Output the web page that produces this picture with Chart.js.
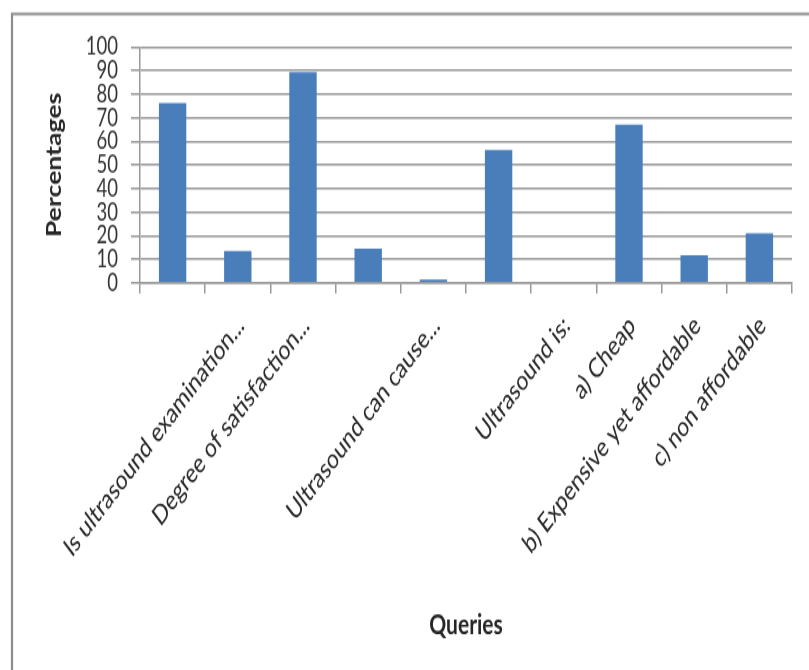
<!DOCTYPE html>
<html>
<head>
<meta charset="utf-8">
<script src="https://cdn.jsdelivr.net/npm/chart.js@4.4.0/dist/chart.umd.min.js"></script>
<style>
  html, body { margin: 0; padding: 0; background: #fff; overflow: hidden; }
  /* the chart is laid out on a shorter canvas and stretched to the page height */
  #stage { position: absolute; left: 0; top: 0; width: 809px; height: 504px;
           transform: scale(1, 1.3294); transform-origin: 0 0; }
  #c { display: block; }
</style>
</head>
<body>
<div id="stage"><canvas id="c" width="809" height="504"></canvas></div>
<script>
// Survey items along the x axis (blank entries carry no label)
const categories = [
  "",
  "Is ultrasound examination...",
  "Degree of satisfaction...",
  "",
  "Ultrasound can cause...",
  "",
  "Ultrasound is:",
  "a) Cheap",
  "b) Expensive yet affordable",
  "c) non affordable"
];

// Share of respondents, in percent
const percentages = [76.2, 13.5, 89.3, 14.6, 1.4, 56.3, 0, 67.1, 11.7, 21];

// Value axis range
const yMin = 0;
const yMax = 100;
const yStep = 10;

const xTitle = "Queries";
const yTitle = "Percentages";

const textColor = "#262626";
const lineColor = "#999999";
const barColor = "#4a7ebb";

// white background and the frame around the chart object
const framePlugin = {
  id: "frame",
  beforeDraw(chart) {
    const ctx = chart.ctx;
    ctx.save();
    ctx.fillStyle = "#fff";
    ctx.fillRect(0, 0, chart.width, chart.height);
    ctx.strokeStyle = "#8c8c8c";
    ctx.lineWidth = 2.2;
    ctx.beginPath();
    ctx.moveTo(12, chart.height + 5);
    ctx.lineTo(12, 10.5);
    ctx.lineTo(chart.width + 5, 10.5);
    ctx.stroke();
    ctx.restore();
  }
};

new Chart(document.getElementById("c"), {
  type: "bar",
  data: {
    labels: categories,
    datasets: [{
      data: percentages,
      backgroundColor: barColor,
      borderWidth: 0,
      barPercentage: 0.42,
      categoryPercentage: 1.0
    }]
  },
  options: {
    responsive: false,
    devicePixelRatio: 1,
    animation: false,
    layout: { padding: { left: 43, right: 17, top: 35.3, bottom: 21.4 } },
    plugins: { legend: { display: false }, tooltip: { enabled: false } },
    scales: {
      x: {
        grid: { drawOnChartArea: false, drawTicks: true, tickLength: 8,
                color: lineColor, lineWidth: 1.5, offset: true },
        border: { color: lineColor, width: 1.5 },
        ticks: { autoSkip: false, minRotation: 45, maxRotation: 45,
                 padding: 12, labelOffset: 3, color: textColor,
                 font: { family: "Lato", size: 20.5 } },
        title: { display: true, text: xTitle, color: textColor, padding: 0,
                 font: { family: "Lato", size: 21, weight: "bold" } },
        afterFit(scale) { scale.height = 269.8; }
      },
      y: {
        min: yMin,
        max: yMax,
        grid: { color: lineColor, lineWidth: 1.5, tickLength: 9 },
        border: { color: lineColor, width: 1.5 },
        ticks: { stepSize: yStep, autoSkip: false, padding: 13, color: "#333333",
                 font: { family: "Lato", size: 18.5 } },
        title: { display: true, text: yTitle, color: textColor, padding: 0,
                 font: { family: "Lato", size: 20, weight: "bold" } },
        afterFit(scale) { scale.width = 140 - 43; }
      }
    }
  },
  plugins: [framePlugin]
});
</script>
</body>
</html>
